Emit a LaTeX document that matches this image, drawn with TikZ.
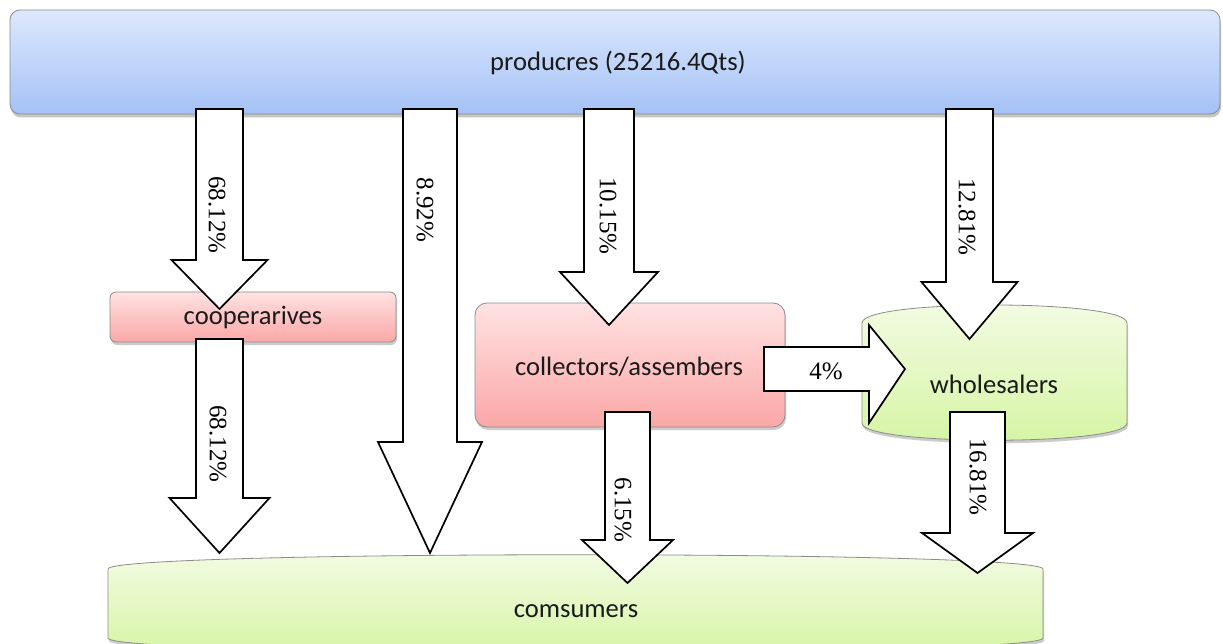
\documentclass[tikz,border=0pt]{standalone}
\usepackage{fontspec}
\setmainfont{Carlito}
\newfontfamily\pctfont{Liberation Serif}
\usetikzlibrary{shadows}
\definecolor{blueTop}{HTML}{DDE8FC}
\definecolor{blueBot}{HTML}{A4C2F6}
\definecolor{redTop}{HTML}{FFE2E2}
\definecolor{redBot}{HTML}{FBA7A7}
\definecolor{greenTop}{HTML}{F3FBE4}
\definecolor{greenBot}{HTML}{D5F5A3}
\definecolor{edgeGray}{HTML}{8C8C8C}
\definecolor{txt}{HTML}{1A1A1A}
\tikzset{
  lbl/.style={text=txt, font=\fontsize{26.6}{30}\selectfont, inner sep=0pt},
  pct/.style={text=black, font=\pctfont\fontsize{25}{29}\selectfont, inner sep=0pt},
  bluebox/.style={draw=edgeGray, line width=0.8pt, top color=blueTop, bottom color=blueBot,
    drop shadow={shadow xshift=1pt, shadow yshift=-3.5pt, opacity=0.45}},
  redbox/.style={draw=edgeGray, line width=0.8pt, top color=redTop, bottom color=redBot,
    drop shadow={shadow xshift=1pt, shadow yshift=-3pt, opacity=0.4}},
  greencan/.style={draw=edgeGray, line width=0.8pt, top color=greenTop, bottom color=greenBot,
    drop shadow={shadow xshift=1pt, shadow yshift=-3pt, opacity=0.4}},
  blockarrow/.style={draw=black, fill=white, line width=1.7pt, line join=miter},
}
% vertical block arrow: #1 cx, #2 top, #3 head start, #4 tip, #5 shaft half, #6 head half
\newcommand{\bdown}[6]{%
  \draw[blockarrow] (#1-#5,#2) -- (#1+#5,#2) -- (#1+#5,#3) -- (#1+#6,#3) -- (#1,#4)
    -- (#1-#6,#3) -- (#1-#5,#3) -- cycle;}
\begin{document}
\begin{tikzpicture}[x=1pt,y=-1pt]
\useasboundingbox (0,0) rectangle (1223,644);
\fill[white] (0,0) rectangle (1223,644);

% boxes
\node[bluebox, rounded corners=10pt, minimum width=1210pt, minimum height=104pt] (prodbox) at (615,62) {};
\node[lbl] (prod) at (618,63) {producres (25216.4Qts)};

\node[redbox, rounded corners=6pt, minimum width=286pt, minimum height=50pt] (coopbox) at (253,317) {};
\node[lbl] (coop) at (253,317) {cooperarives};

\node[redbox, rounded corners=12pt, minimum width=310pt, minimum height=124pt] (collbox) at (630,365) {};
\node[lbl] (coll) at (629,367) {collectors/assembers};

\path[greencan] (862,323) .. controls (862,299) and (1127,299) .. (1127,323) -- (1127,423)
  .. controls (1127,446) and (862,446) .. (862,423) -- cycle;
\node[lbl] (whole) at (994,384) {wholesalers};

\path[greencan] (108,569) .. controls (108,550) and (1043,550) .. (1043,569) -- (1043,638)
  .. controls (1043,657) and (108,657) .. (108,638) -- cycle;
\node[lbl] (cons) at (576,611) {comsumers};

% block arrows
\bdown{219.5}{109}{260}{309}{23.5}{48}
\node[pct, rotate=-90] (p1) at (217,215) {68.12\%};
\bdown{219.5}{339}{498}{553}{23.5}{50}
\node[pct, rotate=-90] (p2) at (218,444) {68.12\%};
\bdown{430}{109}{442}{553}{27}{52}
\node[pct, rotate=-90] (p3) at (425,210) {8.92\%};
\bdown{609}{109}{272}{325}{25}{49}
\node[pct, rotate=-90] (p4) at (608,216) {10.15\%};
\bdown{969.5}{109}{282}{339}{23.5}{48}
\node[pct, rotate=-90] (p5) at (967,217) {12.81\%};
\bdown{627.5}{412}{540}{583}{22.5}{45.5}
\node[pct, rotate=-90] (p6) at (623,510) {6.15\%};
\bdown{977.5}{412}{533}{573}{27.5}{55.5}
\node[pct, rotate=-90] (p7) at (978,477) {16.81\%};

\draw[blockarrow] (764,347) -- (869,347) -- (869,325) -- (905,369) -- (869,423)
  -- (869,391) -- (764,391) -- cycle;
\node[pct] (p8) at (826,371) {4\%};
\end{tikzpicture}
\end{document}
